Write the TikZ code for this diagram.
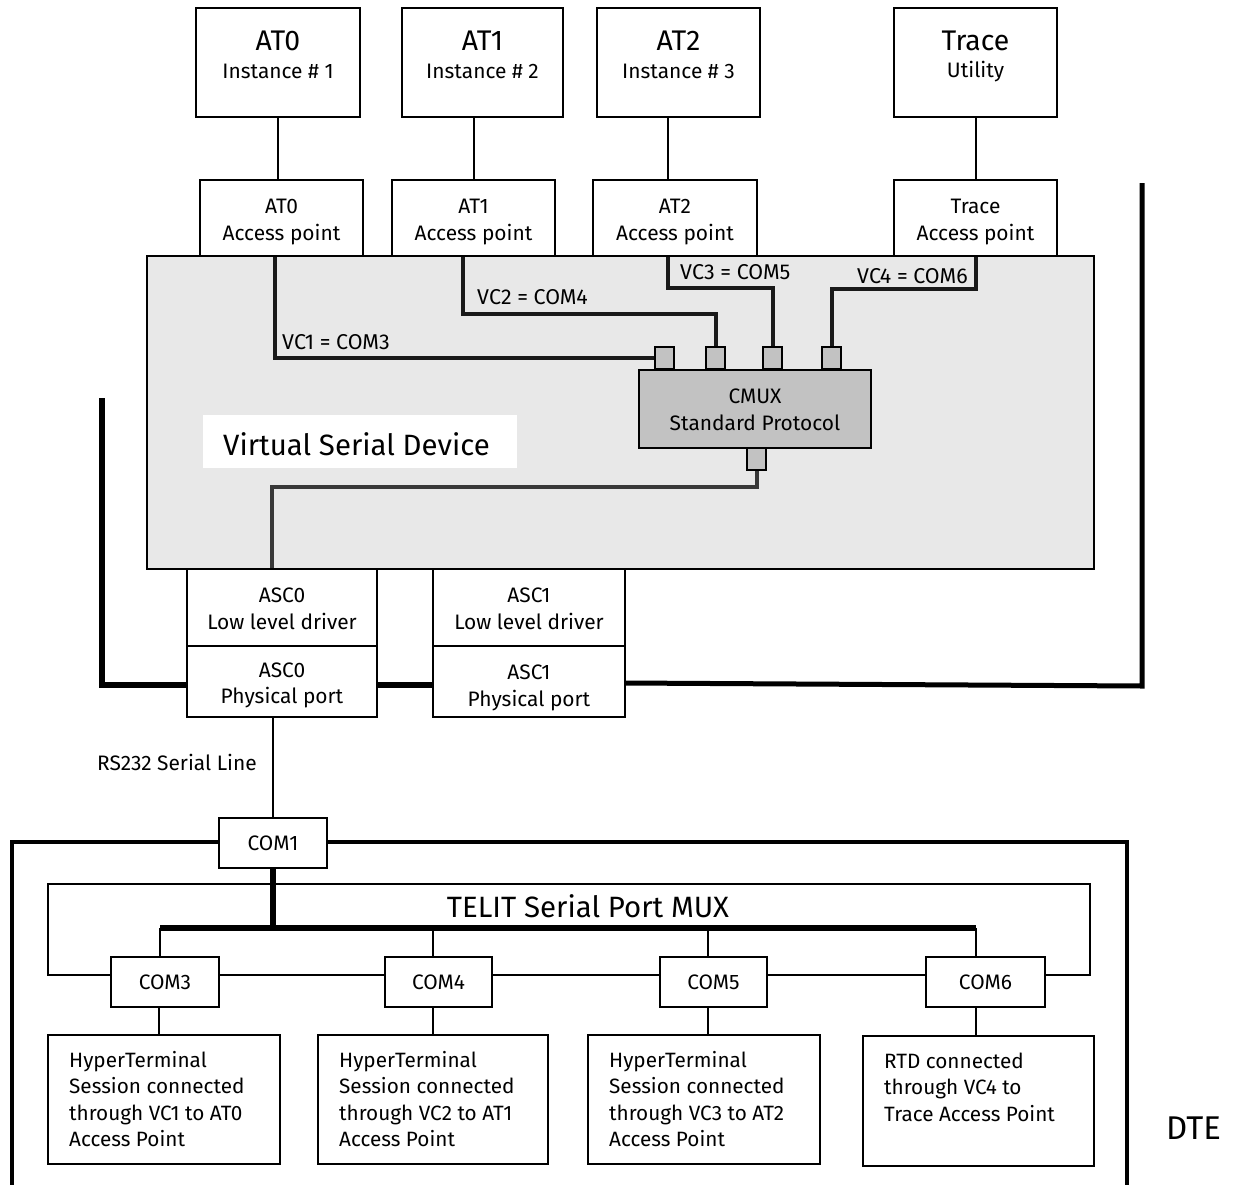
\documentclass[tikz,border=0pt]{standalone}
\usepackage{fontspec}
\setmainfont{Fira Sans}
\newcommand\fsTitle{\fontsize{28.5}{32}\selectfont}
\newcommand\fsMid{\fontsize{21}{25}\selectfont}
\newcommand\fsVC{\fontsize{21.5}{25}\selectfont}
\newcommand\fsBig{\fontsize{29.5}{34}\selectfont}
\newcommand\fsDte{\fontsize{33}{38}\selectfont}
\newcommand\fsBody{\fontsize{20.8}{26.7}\selectfont}
\definecolor{vsdgray}{HTML}{E8E8E8}
\definecolor{portgray}{HTML}{C2C2C2}
% rectangle node from its corners: [style]{name}{x1}{y1}{x2}{y2}{text}
\newcommand\rectnode[7][]{%
  \node[#1, minimum width={(#5-#3)*1bp}, minimum height={(#6-#4)*1bp}]
    (#2) at ({(#3+#5)/2},{(#4+#6)/2}) {#7};}
\begin{document}
\begin{tikzpicture}[x=1bp,y=-1bp,
  box/.style={draw, line width=2bp, fill=white, inner sep=0pt, font=\fsMid},
  vsdbox/.style={draw, line width=2bp, fill=vsdgray, inner sep=0pt},
  port/.style={draw, line width=2bp, fill=portgray, inner sep=0pt},
  lbl/.style={inner sep=0pt, font=\fsMid},
  ttl/.style={inner sep=0pt, font=\fsTitle},
  vclbl/.style={inner sep=0pt, font=\fsVC, anchor=base west},
  link/.style={line width=2bp},
  vc/.style={line width=4bp, draw=black!90, line join=miter},
  frame/.style={line width=6bp, line join=miter},
  dte/.style={line width=4bp, line join=miter},
  bus/.style={line width=6bp, line join=miter}]
\useasboundingbox (0,0) rectangle (1242,1185);

% ---------- applications ----------
\rectnode[box]{at0}{196}{8}{360}{117}{}
\rectnode[box]{at1}{402}{8}{563}{117}{}
\rectnode[box]{at2}{597}{8}{760}{117}{}
\rectnode[box]{trc}{894}{8}{1057}{117}{}
\node[ttl, anchor=base] (at0t) at (278,50) {AT0};
\node[lbl, anchor=base] (at0s) at (278,78) {Instance \# 1};
\node[ttl, anchor=base] (at1t) at (482.5,50) {AT1};
\node[lbl, anchor=base] (at1s) at (482.5,78) {Instance \# 2};
\node[ttl, anchor=base] (at2t) at (678.5,50) {AT2};
\node[lbl, anchor=base] (at2s) at (678.5,78) {Instance \# 3};
\node[ttl, anchor=base] (trct) at (975.5,50) {Trace};
\node[lbl, anchor=base] (trcs) at (975.5,77) {Utility};

% ---------- virtual serial device ----------
\rectnode[vsdbox]{vsd}{147}{256}{1094}{569}{}
\rectnode[fill=white, inner sep=0pt]{vsdlab}{203}{415}{517}{468}{}
\node[inner sep=0pt, font=\fsBig, anchor=base west] (vsdt) at (223,455) {Virtual Serial Device};

% access points
\rectnode[box]{ap0}{200}{180}{363}{256}{}
\rectnode[box]{ap1}{392}{180}{555}{256}{}
\rectnode[box]{ap2}{593}{180}{757}{256}{}
\rectnode[box]{apt}{894}{180}{1057}{256}{}
\node[lbl, anchor=base] (ap0a) at (281.5,213) {AT0};
\node[lbl, anchor=base] (ap0b) at (281.5,240) {Access point};
\node[lbl, anchor=base] (ap1a) at (473.5,213) {AT1};
\node[lbl, anchor=base] (ap1b) at (473.5,240) {Access point};
\node[lbl, anchor=base] (ap2a) at (675,213) {AT2};
\node[lbl, anchor=base] (ap2b) at (675,240) {Access point};
\node[lbl, anchor=base] (apta) at (975.5,213) {Trace};
\node[lbl, anchor=base] (aptb) at (975.5,240) {Access point};

\draw[link] (at0.south) -- (at0.south |- ap0.north);
\draw[link] (ap1.north |- at1.south) -- (ap1.north);
\draw[link] ([xshift=-7bp]ap2.north |- at2.south) -- ([xshift=-7bp]ap2.north);
\draw[link] (apt.north |- trc.south) -- (apt.north);

% CMUX and its ports
\rectnode[port]{cmux}{639}{370}{871}{448}{}
\node[lbl, anchor=base] (cmuxa) at (755,403) {CMUX};
\node[lbl, anchor=base] (cmuxb) at (755,430) {Standard Protocol};
\rectnode[port]{p1}{655}{347}{674}{369}{}
\rectnode[port]{p2}{706}{347}{725}{369}{}
\rectnode[port]{p3}{763}{347}{782}{369}{}
\rectnode[port]{p4}{822}{347}{841}{369}{}
\rectnode[port]{p5}{747}{448}{766}{470}{}

% virtual channels
\draw[vc] ([xshift=-6.5bp]ap0.south) |- (p1.west);
\draw[vc] ([xshift=-10.5bp]ap1.south) -- ++(0,57) -| (p2.north);
\draw[vc] ([xshift=-7bp]ap2.south) -- ++(0,31) -| (p3.north);
\draw[vc] (apt.south) -- ++(0,32) -| (p4.north);
\node[vclbl] (vc1) at (282,349) {VC1 = COM3};
\node[vclbl] (vc2) at (477,304) {VC2 = COM4};
\node[vclbl] (vc3) at (680,279) {VC3 = COM5};
\node[vclbl] (vc4) at (857,283) {VC4 = COM6};

% ---------- serial ports ----------
\rectnode[box]{asc0l}{187}{569}{377}{646}{}
\rectnode[box]{asc0p}{187}{646}{377}{717}{}
\rectnode[box]{asc1l}{433}{569}{625}{646}{}
\rectnode[box]{asc1p}{433}{646}{625}{717}{}
\node[lbl, anchor=base] (asc0la) at (282,602) {ASC0};
\node[lbl, anchor=base] (asc0lb) at (282,629) {Low level driver};
\node[lbl, anchor=base] (asc0pa) at (282,677) {ASC0};
\node[lbl, anchor=base] (asc0pb) at (282,703) {Physical port};
\node[lbl, anchor=base] (asc1la) at (529,602) {ASC1};
\node[lbl, anchor=base] (asc1lb) at (529,629) {Low level driver};
\node[lbl, anchor=base] (asc1pa) at (529,679) {ASC1};
\node[lbl, anchor=base] (asc1pb) at (529,706) {Physical port};

\draw[vc, draw=black!78] (p5.south) -- ++(0,16) -| ([xshift=-10bp]asc0l.north);

% module frame
\coordinate (fl) at (102,398);
\coordinate (fr) at (1142,183);
\draw[frame] (fl) |- ([yshift=-3.5bp]asc0p.west);
\draw[frame] ([yshift=-3.5bp]asc0p.east) -- ([yshift=-3.5bp]asc1p.west);
\draw[frame, line width=5bp] ([yshift=-1.5bp]asc1p.east) -- (fr |- 0,686) -- (fr);

% ---------- DTE ----------
\rectnode[box]{com1}{219}{818}{327}{868}{COM1}
\draw[link] (com1.north |- asc0p.south) -- (com1.north);
\node[lbl, anchor=base east] (rs) at (257,770) {RS232 Serial Line};

\coordinate (dl) at (12,1195);
\coordinate (dr) at (1127,1195);
\draw[dte] (dl) |- ([yshift=1bp]com1.west);
\draw[dte] ([yshift=1bp]com1.east) -| (dr);
\node[inner sep=0pt, font=\fsDte, anchor=base west] (dte) at (1166,1139) {DTE};

% serial port multiplexer
\rectnode[box]{com3}{111}{957}{219}{1007}{COM3}
\rectnode[box]{com4}{385}{957}{492}{1007}{COM4}
\rectnode[box]{com5}{660}{957}{767}{1007}{COM5}
\rectnode[box]{com6}{926}{957}{1045}{1007}{COM6}
\coordinate (mtl) at (48,884);
\coordinate (mtr) at (1090,884);
\draw[link] ([yshift=7.5bp]com3.west) -| (mtl) -- (mtr) |- ([yshift=7.5bp]com6.east);
\draw[link] ([yshift=7.5bp]com3.east) -- ([yshift=7.5bp]com4.west);
\draw[link] ([yshift=7.5bp]com4.east) -- ([yshift=7.5bp]com5.west);
\draw[link] ([yshift=7.5bp]com5.east) -- ([yshift=7.5bp]com6.west);
\node[inner sep=0pt, font=\fsBig, anchor=base] (mux) at (588,917) {TELIT Serial Port MUX};

\coordinate (busl) at (160,928);
\coordinate (busr) at (976,928);
\draw[bus] (com1.south) -- (com1.south |- busl);
\draw[bus] (busl) -- (busr);
\draw[link] (busl) -- (busl |- com3.north);
\draw[link] ([xshift=-5.5bp]com4.north |- busl) -- ([xshift=-5.5bp]com4.north);
\draw[link] ([xshift=-5.5bp]com5.north |- busl) -- ([xshift=-5.5bp]com5.north);
\draw[link] (busr) -- (busr |- com6.north);

% terminal sessions
\rectnode[box]{b1}{48}{1035}{280}{1164}{}
\rectnode[box]{b2}{318}{1035}{548}{1164}{}
\rectnode[box]{b3}{588}{1035}{820}{1164}{}
\rectnode[box]{b4}{863}{1036}{1094}{1166}{}
\draw[link] ([xshift=-6bp]com3.south) -- ([xshift=-6bp]com3.south |- b1.north);
\draw[link] ([xshift=-5.5bp]com4.south) -- ([xshift=-5.5bp]com4.south |- b2.north);
\draw[link] ([xshift=-5.5bp]com5.south) -- ([xshift=-5.5bp]com5.south |- b3.north);
\draw[link] ([xshift=-9.5bp]com6.south) -- ([xshift=-9.5bp]com6.south |- b4.north);
\node[inner sep=0pt, font=\fsBody, anchor=base west] (b1t) at (69,1067)
  {\begin{tabular}[t]{@{}l@{}}HyperTerminal\\Session connected\\through VC1 to AT0\\Access Point\end{tabular}};
\node[inner sep=0pt, font=\fsBody, anchor=base west] (b2t) at (339,1067)
  {\begin{tabular}[t]{@{}l@{}}HyperTerminal\\Session connected\\through VC2 to AT1\\Access Point\end{tabular}};
\node[inner sep=0pt, font=\fsBody, anchor=base west] (b3t) at (609,1067)
  {\begin{tabular}[t]{@{}l@{}}HyperTerminal\\Session connected\\through VC3 to AT2\\Access Point\end{tabular}};
\node[inner sep=0pt, font=\fsBody, anchor=base west] (b4t) at (884,1068)
  {\begin{tabular}[t]{@{}l@{}}RTD connected\\through VC4 to\\Trace Access Point\end{tabular}};
\end{tikzpicture}
\end{document}
